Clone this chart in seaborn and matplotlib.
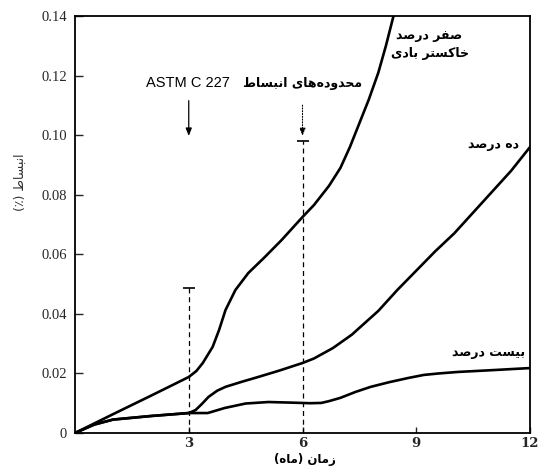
import matplotlib
matplotlib.use("Agg")
import matplotlib.pyplot as plt
import seaborn as sns
import pandas as pd

# ---------------- data ----------------
months_0 = [0, 1.0, 2.0, 3.0, 3.2, 3.37, 3.63, 3.8, 3.97, 4.23, 4.57, 5.0, 5.45, 6.0, 6.3, 6.7,
            7.0, 7.25, 7.5, 7.75, 8.0, 8.2, 8.4]
exp_0 = [0, 0.0063, 0.0125, 0.0188, 0.0208, 0.0235, 0.0289, 0.0346, 0.0413, 0.048, 0.0537, 0.059,
         0.0648, 0.0725, 0.0765, 0.083, 0.089, 0.096, 0.104, 0.112, 0.121, 0.130, 0.140]

months_10 = [0, 0.5, 1.0, 2.0, 3.0, 3.18, 3.35, 3.52, 3.75, 3.97, 4.4, 4.83, 5.4, 6.0, 6.3, 6.8,
             7.3, 8.0, 8.5, 9.0, 9.5, 10.0, 10.5, 11.0, 11.5, 12.0]
exp_10 = [0, 0.0028, 0.0045, 0.0057, 0.0067, 0.0077, 0.0098, 0.0121, 0.0142, 0.0155, 0.0172,
          0.0188, 0.021, 0.0235, 0.025, 0.0285, 0.033, 0.041, 0.048, 0.0545, 0.061, 0.067, 0.074,
          0.081, 0.088, 0.096]

months_20 = [0, 0.5, 1.0, 2.0, 3.0, 3.5, 3.95, 4.5, 5.1, 5.7, 6.2, 6.5, 6.7, 7.0, 7.4, 7.8, 8.3,
             8.8, 9.2, 9.6, 10.1, 11.0, 12.0]
exp_20 = [0, 0.0028, 0.0045, 0.0057, 0.0067, 0.0067, 0.0084, 0.0099, 0.0104, 0.0102, 0.0100,
          0.0101, 0.0107, 0.0118, 0.0138, 0.0155, 0.0171, 0.0185, 0.0195, 0.0200, 0.0205, 0.0211,
          0.0218]

series_labels = ["صفر درصد\nخاکستر بادی", "ده درصد", "بیست درصد"]

limit_months = [3, 6]
limit_values = [0.0487, 0.098]

y_ticks = [0, 0.02, 0.04, 0.06, 0.08, 0.10, 0.12, 0.14]
y_tick_labels = ["0", "0.02", "0.04", "0.06", "0.08", "0.10", "0.12", "0.14"]
x_ticks = [3, 6, 9, 12]
x_tick_labels = ["3", "6", "9", "12"]

x_label = "زمان (ماه)"
y_label = "انبساط (٪)"
astm_text = "ASTM C 227"
limits_text = "محدوده‌های انبساط"

# ------------- simple Persian shaping (matplotlib has no complex text layout) -------------
FORMS = {
    "ا": ("\uFE8D", "\uFE8E", None, None),
    "ب": ("\uFE8F", "\uFE90", "\uFE91", "\uFE92"),
    "ت": ("\uFE95", "\uFE96", "\uFE97", "\uFE98"),
    "ح": ("\uFEA1", "\uFEA2", "\uFEA3", "\uFEA4"),
    "خ": ("\uFEA5", "\uFEA6", "\uFEA7", "\uFEA8"),
    "د": ("\uFEA9", "\uFEAA", None, None),
    "ر": ("\uFEAD", "\uFEAE", None, None),
    "ز": ("\uFEAF", "\uFEB0", None, None),
    "س": ("\uFEB1", "\uFEB2", "\uFEB3", "\uFEB4"),
    "ص": ("\uFEB9", "\uFEBA", "\uFEBB", "\uFEBC"),
    "ط": ("\uFEC1", "\uFEC2", "\uFEC3", "\uFEC4"),
    "ف": ("\uFED1", "\uFED2", "\uFED3", "\uFED4"),
    "م": ("\uFEE1", "\uFEE2", "\uFEE3", "\uFEE4"),
    "ن": ("\uFEE5", "\uFEE6", "\uFEE7", "\uFEE8"),
    "ه": ("\uFEE9", "\uFEEA", "\uFEEB", "\uFEEC"),
    "و": ("\uFEED", "\uFEEE", None, None),
    "ک": ("\uFB8E", "\uFB8F", "\uFB90", "\uFB91"),
    "ی": ("\uFBFC", "\uFBFD", "\uFBFE", "\uFBFF"),
}


def shape_line(s):
    out = []
    for i, c in enumerate(s):
        if c not in FORMS:
            if c != "\u200c":
                out.append(c)
            continue
        prev = s[i - 1] if i > 0 else None
        nxt = s[i + 1] if i + 1 < len(s) else None
        jp = prev in FORMS and FORMS[prev][2] is not None
        jn = FORMS[c][2] is not None and nxt in FORMS
        iso, fin, ini, med = FORMS[c]
        out.append(med if (jp and jn) else fin if jp else ini if jn else iso)
    vis = "".join(out)[::-1]
    return vis.translate(str.maketrans("()", ")("))


def shape(s):
    return "\n".join(shape_line(l) for l in s.split("\n"))


# ---------------- figure ----------------
sns.set_style("ticks")
plt.rcParams["font.family"] = ["DejaVu Sans"]

fig = plt.figure(figsize=(5.4, 4.68), dpi=100)
ax = fig.add_axes([75 / 540, 35 / 468, 455 / 540, 417 / 468])

df = pd.concat([
    pd.DataFrame({"month": months_0, "exp": exp_0, "s": "0"}),
    pd.DataFrame({"month": months_10, "exp": exp_10, "s": "10"}),
    pd.DataFrame({"month": months_20, "exp": exp_20, "s": "20"}),
])
sns.lineplot(data=df, x="month", y="exp", units="s", estimator=None, sort=False,
             color="black", linewidth=1.9, ax=ax, legend=False)

# expansion limit markers (dashed lines with caps)
for m, v in zip(limit_months, limit_values):
    ax.plot([m, m], [0, v], color="black", lw=0.9, ls=(0, (4, 3)))
    ax.plot([m], [v], marker="_", color="black", markersize=8, mew=1.2)

# arrows from the annotation down to the limit caps
ax.annotate("", xy=(limit_months[0], limit_values[1] + 0.0008),
            xytext=(limit_months[0], limit_values[1] + 0.0145),
            arrowprops=dict(arrowstyle="-|>,head_length=0.45,head_width=0.18",
                            color="black", lw=0.9))
ax.annotate("", xy=(limit_months[1], limit_values[1] + 0.0008),
            xytext=(limit_months[1], limit_values[1] + 0.0130),
            arrowprops=dict(arrowstyle="-|>,head_length=0.45,head_width=0.18",
                            color="black", lw=0.8, ls=(0, (1, 1.5))))

ax.set_xlim(0, 12)
ax.set_ylim(0, 0.14)
ax.set_xticks(x_ticks)
ax.set_xticklabels(x_tick_labels, family="DejaVu Serif", fontsize=9.5, fontweight="bold")
ax.set_yticks(y_ticks)
ax.set_yticklabels(y_tick_labels, family="Liberation Serif", fontsize=10.5)
ax.tick_params(axis="y", direction="in", length=6, width=1, pad=6, right=False)
ax.tick_params(axis="x", direction="in", length=4, width=1, pad=3, top=False)
for sp in ax.spines.values():
    sp.set_visible(True)
    sp.set_linewidth(1.3)
    sp.set_color("black")
ax.set_xlabel("")
ax.set_ylabel("")

pfont = dict(family="DejaVu Sans", fontweight="bold", fontsize=9, color="black")
ax.text(9.35, 0.1305, shape(series_labels[0]), ha="center", va="center",
        linespacing=1.5, **pfont)
ax.text(11.03, 0.097, shape(series_labels[1]), ha="center", va="center", **pfont)
ax.text(10.9, 0.0269, shape(series_labels[2]), ha="center", va="center", **pfont)
ax.text(2.98, 0.1175, astm_text, ha="center", va="center", family="Liberation Sans",
        fontsize=10.5, color="black")
ax.text(6.0, 0.1175, shape(limits_text), ha="center", va="center", **pfont)

fig.text(305 / 540, 1 - 459 / 468, shape(x_label), ha="center", va="center",
         family="DejaVu Sans", fontweight="bold", fontsize=8.5, color="black")
fig.text(20 / 540, 1 - 182 / 468, shape(y_label), ha="center", va="center", rotation=90,
         family="DejaVu Sans", fontsize=9, color="#333333")

fig.savefig("out.png", dpi=100)
